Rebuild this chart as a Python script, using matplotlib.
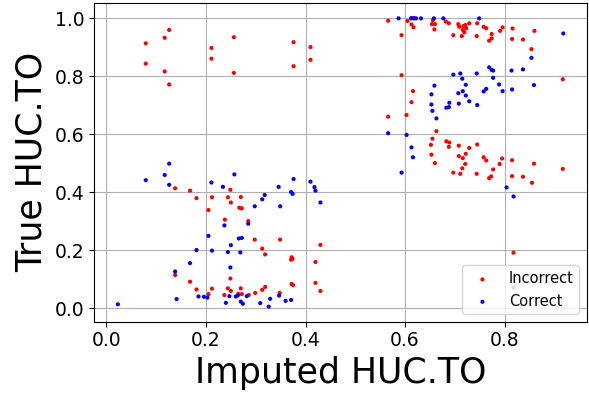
import matplotlib
matplotlib.use('Agg')
import matplotlib.pyplot as plt

# imputed vs true values, split by whether the imputation was correct
incorrect_x = [
    0.079, 0.117, 0.126, 0.079, 0.117, 0.126, 0.211, 0.211, 0.256, 0.256, 0.376, 0.410, 0.410, 0.376,
    0.566, 0.605, 0.613, 0.617, 0.593, 0.613, 0.618, 0.593, 0.616, 0.613, 0.603, 0.566,
    0.656, 0.654, 0.660, 0.659, 0.682, 0.688, 0.697, 0.707, 0.709, 0.717, 0.721, 0.723, 0.716, 0.719,
    0.714, 0.729, 0.745, 0.744, 0.758, 0.763, 0.774, 0.774, 0.769, 0.791, 0.796, 0.816, 0.815, 0.837,
    0.860, 0.854, 0.917,
    0.663, 0.655, 0.652, 0.683, 0.689, 0.688, 0.708, 0.729, 0.745, 0.653, 0.660, 0.708, 0.716, 0.722,
    0.721, 0.715, 0.758, 0.763, 0.795, 0.790, 0.777, 0.815, 0.859, 0.917, 0.697, 0.711, 0.744, 0.773,
    0.769, 0.815, 0.837, 0.855, 0.818, 0.818,
    0.138, 0.168, 0.181, 0.212, 0.249, 0.244, 0.250, 0.270, 0.267, 0.272, 0.205, 0.238, 0.285, 0.298,
    0.138, 0.168, 0.181, 0.205, 0.212, 0.249, 0.237, 0.244, 0.250, 0.270, 0.265, 0.272, 0.286, 0.299,
    0.349, 0.313, 0.319, 0.430, 0.372, 0.374, 0.371, 0.420, 0.372, 0.375, 0.420, 0.430, 0.319, 0.313,
    0.348,
]
incorrect_y = [
    0.913, 0.932, 0.959, 0.843, 0.816, 0.771, 0.897, 0.860, 0.934, 0.811, 0.917, 0.900, 0.856, 0.834,
    0.991, 0.990, 0.978, 0.968, 0.941, 1.000, 1.000, 0.803, 0.748, 0.710, 0.666, 0.660,
    0.993, 0.979, 0.979, 0.961, 0.988, 0.982, 0.941, 0.979, 0.970, 0.972, 0.976, 0.965, 0.959, 0.951,
    0.938, 0.982, 0.982, 0.938, 0.970, 0.965, 0.945, 0.930, 0.922, 0.956, 0.968, 0.964, 0.928, 0.926,
    0.956, 0.893, 0.789,
    0.610, 0.584, 0.563, 0.575, 0.571, 0.556, 0.560, 0.552, 0.564, 0.529, 0.500, 0.524, 0.517, 0.532,
    0.497, 0.482, 0.520, 0.509, 0.516, 0.497, 0.478, 0.510, 0.498, 0.480, 0.467, 0.463, 0.463, 0.454,
    0.448, 0.455, 0.453, 0.432, 0.191, 0.071,
    0.413, 0.405, 0.379, 0.382, 0.408, 0.382, 0.364, 0.383, 0.346, 0.344, 0.338, 0.305, 0.300, 0.236,
    0.114, 0.091, 0.064, 0.048, 0.067, 0.102, 0.045, 0.068, 0.059, 0.068, 0.049, 0.048, 0.045, 0.052,
    0.236, 0.205, 0.185, 0.218, 0.175, 0.170, 0.167, 0.159, 0.083, 0.079, 0.087, 0.059, 0.073, 0.063,
    0.052,
]

correct_x = [
    0.126, 0.079, 0.117, 0.126, 0.257, 0.211, 0.234, 0.298, 0.237, 0.285, 0.205, 0.266, 0.272, 0.250,
    0.181, 0.212, 0.244, 0.269, 0.168, 0.138, 0.249, 0.141, 0.185, 0.196, 0.203, 0.247, 0.260, 0.264,
    0.282, 0.240, 0.270, 0.274, 0.309, 0.023,
    0.376, 0.410, 0.418, 0.420, 0.346, 0.371, 0.374, 0.318, 0.313, 0.349, 0.430, 0.326, 0.329, 0.347,
    0.360, 0.371,
    0.587, 0.612, 0.617, 0.622, 0.632, 0.658, 0.677, 0.749, 0.918, 0.854,
    0.769, 0.774, 0.777, 0.814, 0.837, 0.859, 0.815, 0.697, 0.711, 0.744, 0.715, 0.777, 0.722, 0.659,
    0.789, 0.763, 0.758, 0.796, 0.716, 0.707, 0.653, 0.722, 0.729, 0.689, 0.688, 0.683, 0.708, 0.745,
    0.653, 0.655, 0.663,
    0.566, 0.603, 0.613, 0.616, 0.593, 0.804, 0.818,
]
correct_y = [
    0.498, 0.441, 0.459, 0.425, 0.461, 0.433, 0.418, 0.351, 0.285, 0.291, 0.249, 0.240, 0.242, 0.217,
    0.200, 0.198, 0.193, 0.192, 0.155, 0.126, 0.140, 0.031, 0.040, 0.039, 0.036, 0.041, 0.040, 0.044,
    0.041, 0.018, 0.022, 0.015, 0.017, 0.013,
    0.445, 0.436, 0.417, 0.405, 0.418, 0.400, 0.394, 0.390, 0.375, 0.351, 0.364, 0.005, 0.032, 0.043,
    0.025, 0.028,
    0.999, 0.999, 0.999, 0.999, 0.999, 0.999, 0.999, 0.999, 0.947, 0.863,
    0.830, 0.821, 0.819, 0.819, 0.823, 0.769, 0.754, 0.805, 0.809, 0.809, 0.791, 0.794, 0.770, 0.767,
    0.771, 0.756, 0.747, 0.748, 0.748, 0.741, 0.737, 0.733, 0.713, 0.708, 0.693, 0.691, 0.705, 0.700,
    0.702, 0.680, 0.654,
    0.603, 0.597, 0.554, 0.520, 0.467, 0.416, 0.385,
]

fig = plt.figure(figsize=(5.89, 3.98), dpi=100)
ax = fig.add_axes([94 / 589, 1 - 321.7 / 398, (586.7 - 94) / 589, (321.7 - 3) / 398])

ax.scatter(incorrect_x, incorrect_y, s=9, c='red', edgecolors='none', label='Incorrect')
ax.scatter(correct_x, correct_y, s=9, c='blue', edgecolors='none', label='Correct')

ax.set_xlim(-0.025, 0.965)
ax.set_ylim(-0.047, 1.052)
ax.set_xticks([0.0, 0.2, 0.4, 0.6, 0.8])
ax.set_yticks([0.0, 0.2, 0.4, 0.6, 0.8, 1.0])
ax.tick_params(labelsize=13.5)
ax.grid(True)
ax.set_axisbelow(True)

ax.set_xlabel('Imputed HUC.TO', fontsize=25)
ax.set_ylabel('True HUC.TO', fontsize=25)
ax.legend(loc='lower right', fontsize=10.5)

fig.savefig('out.png', dpi=100)
